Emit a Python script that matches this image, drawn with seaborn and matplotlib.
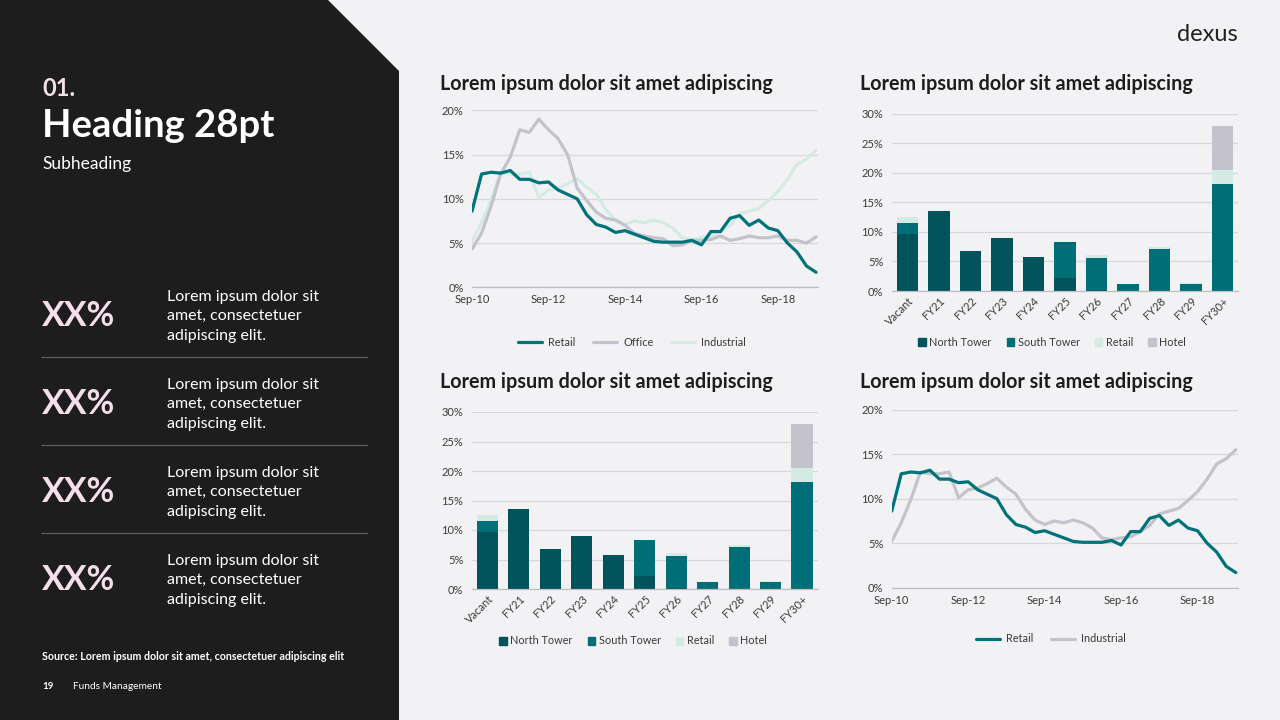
import matplotlib

matplotlib.use("Agg")
import matplotlib.pyplot as plt
import numpy as np
import pandas as pd
import seaborn as sns
from matplotlib.lines import Line2D
from matplotlib.patches import Polygon

W, H = 1280, 720

# quarterly series, Sep-10 .. Sep-19 (%)
retail = [8.6, 12.8, 13.0, 12.9, 13.2, 12.2, 12.2, 11.8, 11.9, 11.0, 10.5, 10.0,
          8.2, 7.1, 6.8, 6.2, 6.4, 6.0, 5.6, 5.2, 5.1, 5.1, 5.1, 5.3, 4.8, 6.3,
          6.3, 7.8, 8.1, 7.0, 7.6, 6.7, 6.4, 5.0, 4.0, 2.4, 1.7]
office = [4.3, 6.1, 9.2, 12.8, 14.7, 17.8, 17.5, 19.0, 17.8, 16.8, 15.0, 11.2,
          9.8, 8.5, 7.8, 7.6, 7.0, 6.1, 5.8, 5.6, 5.5, 4.7, 4.8, 5.3, 5.3, 5.4,
          5.8, 5.3, 5.5, 5.8, 5.6, 5.6, 5.8, 5.3, 5.3, 5.0, 5.7]
industrial = [5.2, 7.3, 9.9, 13.0, 12.8, 12.8, 13.0, 10.1, 11.0, 11.2, 11.7, 12.3,
              11.3, 10.5, 8.8, 7.6, 7.1, 7.5, 7.3, 7.6, 7.3, 6.7, 5.6, 5.4, 5.6,
              5.7, 6.3, 7.0, 8.3, 8.6, 8.9, 9.8, 10.8, 12.2, 13.9, 14.5, 15.5]
date_ticks = [0, 8, 16, 24, 32]
date_labels = ["Sep-10", "Sep-12", "Sep-14", "Sep-16", "Sep-18"]

# lease expiry profile (%)
expiry_cats = ["Vacant", "FY21", "FY22", "FY23", "FY24", "FY25", "FY26",
               "FY27", "FY28", "FY29", "FY30+"]
north_tower = [9.6, 13.5, 6.8, 9.0, 5.8, 2.2, 0.15, 0.0, 0.0, 0.0, 0.0]
south_tower = [1.9, 0.0, 0.0, 0.0, 0.0, 6.1, 5.45, 1.2, 7.1, 1.2, 18.1]
retail_exp = [1.0, 0.0, 0.0, 0.0, 0.0, 0.0, 0.5, 0.0, 0.3, 0.1, 2.4]
hotel_exp = [0.0, 0.0, 0.0, 0.0, 0.0, 0.0, 0.0, 0.0, 0.0, 0.0, 7.4]

BG = "#F2F2F4"
PANEL = "#1E1D1D"
PINK = "#F3DEE9"
TEAL = "#00727A"
NORTH = "#00535B"
SOUTH = "#006E76"
MINT = "#D4EBE4"
GREY = "#C4C3CC"
GRID = "#D8D8DC"
TXT = "#3A3A3A"

sns.set_theme(style="white")
plt.rcParams["font.family"] = ["Lato", "DejaVu Sans"]

fig = plt.figure(figsize=(12.8, 7.2), dpi=100, facecolor=BG)


def fx(x):
    return x / W


def fy(y):
    return 1 - y / H


def rect(x0, y0, x1, y1):
    return [fx(x0), fy(y1), (x1 - x0) / W, (y1 - y0) / H]


# dark side panel with the cut corner
fig.patches.append(Polygon([(fx(0), fy(0)), (fx(328), fy(0)), (fx(399), fy(71)),
                            (fx(399), fy(720)), (fx(0), fy(720))],
                           closed=True, transform=fig.transFigure,
                           facecolor=PANEL, edgecolor="none", zorder=0))

fig.text(fx(42), fy(96), "01.", color=PINK, fontsize=17, fontweight="bold")
fig.text(fx(42), fy(137), "Heading 28pt", color="white", fontsize=27.5, fontweight="bold")
fig.text(fx(42), fy(169), "Subheading", color="white", fontsize=12.5)

for i in range(4):
    off = i * 88
    fig.text(fx(42), fy(326 + off), "XX%", color=PINK, fontsize=24.5, fontweight="bold")
    for k, line in enumerate(["Lorem ipsum dolor sit", "amet, consectetuer", "adipiscing elit."]):
        fig.text(fx(167), fy(301 + off + k * 19.3), line, color="white", fontsize=11.5)
    if i < 3:
        fig.add_artist(Line2D([fx(41), fx(367)], [fy(357 + off)] * 2,
                              transform=fig.transFigure, color="#5C5C5C", lw=0.9))

fig.text(fx(42), fy(660), "Source: Lorem ipsum dolor sit amet, consectetuer adipiscing elit",
         color="white", fontsize=7.7, fontweight="bold")
fig.text(fx(42), fy(689), "19", color="white", fontsize=7, fontweight="bold")
fig.text(fx(73), fy(689), "Funds Management", color="white", fontsize=7.3)

fig.text(fx(1238), fy(41), "dexus", color="#222222", fontsize=17, ha="right")

titles = "Lorem ipsum dolor sit amet adipiscing"
for tx, ty in [(440, 90), (860, 90), (440, 388), (860, 388)]:
    fig.text(fx(tx), fy(ty), titles, color="#1E1D1D", fontsize=14.2, fontweight="bold")


def style_axes(ax, ymax, step):
    ax.set_facecolor("none")
    ax.set_ylim(0, ymax)
    ax.set_yticks(np.arange(0, ymax + 0.1, step))
    ax.set_yticklabels([f"{int(v)}%" for v in np.arange(0, ymax + 0.1, step)])
    ax.yaxis.grid(True, color=GRID, lw=0.9)
    ax.set_axisbelow(True)
    for s in ("top", "right", "left"):
        ax.spines[s].set_visible(False)
    ax.spines["bottom"].set_color("#BDBDC2")
    ax.spines["bottom"].set_linewidth(0.9)
    ax.tick_params(axis="y", length=0, labelsize=8, labelcolor=TXT, pad=6)
    ax.set_xlabel("")
    ax.set_ylabel("")


def line_chart(rect_px, series, colors, legend_x, legend_y):
    ax = fig.add_axes(rect(*rect_px))
    frames = []
    for name, vals in series.items():
        frames.append(pd.DataFrame({"q": np.arange(len(vals)), "value": vals, "series": name}))
    df = pd.concat(frames, ignore_index=True)
    sns.lineplot(data=df, x="q", y="value", hue="series", palette=colors,
                 linewidth=2.3, ax=ax, legend=False)
    # first series sits on top
    for ln, z in zip(ax.lines, range(len(ax.lines), 0, -1)):
        ln.set_zorder(z + 2)
    style_axes(ax, 20, 5)
    ax.set_xlim(0, 36.2)
    ax.set_xticks(date_ticks)
    ax.set_xticklabels(date_labels)
    ax.tick_params(axis="x", length=3, width=0.8, color="#BDBDC2", labelsize=8,
                   labelcolor=TXT, pad=2)
    handles = [Line2D([], [], color=colors[n], lw=2.3) for n in series]
    fig.legend(handles, list(series), loc="center",
               bbox_to_anchor=(fx(legend_x), fy(legend_y)),
               ncol=len(series), frameon=False, fontsize=7.8, handlelength=2.2,
               columnspacing=1.6, handletextpad=0.6, labelcolor=TXT)
    return ax


def bar_chart(rect_px, legend_x, legend_y):
    ax = fig.add_axes(rect(*rect_px))
    layers = [("Hotel", hotel_exp, GREY), ("Retail", retail_exp, MINT),
              ("South Tower", south_tower, SOUTH), ("North Tower", north_tower, NORTH)]
    stack = {}
    running = np.zeros(len(expiry_cats))
    for name, vals, _ in layers[::-1]:
        running = running + np.array(vals)
        stack[name] = running.copy()
    for name, _, col in layers:
        df = pd.DataFrame({"cat": expiry_cats, "value": stack[name]})
        sns.barplot(data=df, x="cat", y="value", color=col, width=0.67,
                    saturation=1, ax=ax, edgecolor="none")
    style_axes(ax, 30, 5)
    ax.set_xlim(-0.5, len(expiry_cats) - 0.5)
    ax.tick_params(axis="x", length=0, labelsize=8, labelcolor=TXT, pad=3)
    plt.setp(ax.get_xticklabels(), rotation=45, ha="right", rotation_mode="anchor")
    handles = [plt.Rectangle((0, 0), 1, 1, color=c) for _, _, c in layers[::-1]]
    fig.legend(handles, [n for n, _, _ in layers[::-1]], loc="center",
               bbox_to_anchor=(fx(legend_x), fy(legend_y)),
               ncol=4, frameon=False, fontsize=7.8, handlelength=0.7, handleheight=0.7,
               columnspacing=1.4, handletextpad=0.3, labelcolor=TXT)
    return ax


line_chart((472, 110.3, 818, 287.3),
           {"Retail": retail, "Office": office, "Industrial": industrial},
           {"Retail": TEAL, "Office": GREY, "Industrial": MINT}, 632, 342)
bar_chart((891.7, 113.7, 1238.3, 291), 1052, 342)
bar_chart((471.7, 412, 817.7, 589), 633, 641)
line_chart((891.7, 409.7, 1237.7, 587.7),
           {"Retail": retail, "Industrial": industrial},
           {"Retail": TEAL, "Industrial": GREY}, 1051, 639)

fig.savefig("out.png", dpi=100, facecolor=BG)
